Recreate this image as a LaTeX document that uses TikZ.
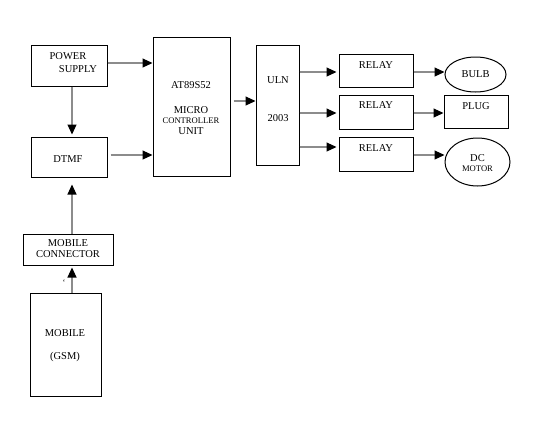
\documentclass[tikz,border=0pt]{standalone}
\usepackage{fontspec}
\setmainfont{Liberation Serif}
\usetikzlibrary{arrows.meta,shapes.geometric}
\tikzset{
  blk/.style={draw=black, line width=1pt, inner sep=0pt, rectangle},
  oval/.style={draw=black, line width=1pt, inner sep=0pt, ellipse},
  txt/.style={inner sep=0pt, font=\fontsize{10.5}{12}\selectfont},
  stxt/.style={inner sep=0pt, font=\fontsize{8.6}{10}\selectfont},
  conn/.style={draw=black!45, line width=1.1pt, -{Triangle[black, length=10pt, width=9pt]}}
}
\begin{document}
\begin{tikzpicture}[x=1pt, y=-1pt]
\useasboundingbox (0,0) rectangle (538,429);
% boxes
\node[blk, minimum width=76pt, minimum height=41pt] (ps) at (69,65.5) {};
\node[blk, minimum width=77pt, minimum height=139pt] (mcu) at (191.5,106.5) {};
\node[blk, minimum width=76pt, minimum height=40pt] (dtmf) at (69,157) {};
\node[blk, minimum width=90pt, minimum height=31pt] (mc) at (68,249.5) {};
\node[blk, minimum width=71pt, minimum height=103pt] (mob) at (65.5,344.5) {};
\node[blk, minimum width=43pt, minimum height=120pt] (uln) at (277.5,105) {};
\node[blk, minimum width=74pt, minimum height=33pt] (r1) at (376,70.5) {};
\node[blk, minimum width=74pt, minimum height=34pt] (r2) at (376,112) {};
\node[blk, minimum width=74pt, minimum height=34pt] (r3) at (376,154) {};
\node[oval, minimum width=61pt, minimum height=35pt] (bulb) at (475.5,74.5) {};
\node[blk, minimum width=64pt, minimum height=33pt] (plug) at (476,111.5) {};
\node[oval, minimum width=65pt, minimum height=48pt] (motor) at (477.5,162) {};
% texts
\node[txt] (t1) at (68,56) {POWER};
\node[txt] (t2) at (78,69) {SUPPLY};
\node[txt] (t3) at (191,85) {AT89S52};
\node[txt] (t4) at (191,110) {MICRO};
\node[stxt] (t5) at (191,121) {CONTROLLER};
\node[txt] (t6) at (191,131) {UNIT};
\node[txt] (t7) at (68,159) {DTMF};
\node[txt] (t8) at (278,80) {ULN};
\node[txt] (t9) at (278,118) {2003};
\node[txt] (t10) at (376,65) {RELAY};
\node[txt] (t11) at (376,105) {RELAY};
\node[txt] (t12) at (376,148) {RELAY};
\node[txt] (t13) at (475.5,74) {BULB};
\node[txt] (t14) at (476,106) {PLUG};
\node[txt] (t15) at (477.5,158) {DC};
\node[stxt] (t16) at (477.5,169) {MOTOR};
\node[txt] (t17) at (68,243) {MOBILE};
\node[txt] (t18) at (68,254) {CONNECTOR};
\node[txt] (t19) at (65,333) {MOBILE};
\node[txt] (t20) at (65,357) {(GSM)};
\node[stxt] (t21) at (64,283) {`};
% connectors
\draw[conn] (ps.east |- 0,63) -- (mcu.west |- 0,63);
\draw[conn, shorten >=2pt] (ps.south -| 72,0) -- (dtmf.north -| 72,0);
\draw[conn, shorten <=3pt] (dtmf.east |- 0,155) -- (mcu.west |- 0,155);
\draw[conn, shorten <=3pt] (mcu.east |- 0,101) -- (uln.west |- 0,101);
\draw[conn, shorten >=2pt] (uln.east |- 0,72) -- (r1.west |- 0,72);
\draw[conn, shorten >=2pt] (uln.east |- 0,113) -- (r2.west |- 0,113);
\draw[conn, shorten >=2pt] (uln.east |- 0,147) -- (r3.west |- 0,147);
\draw[conn] (r1.east |- 0,72) -- (bulb.west |- 0,72);
\draw[conn] (r2.east |- 0,113) -- (plug.west |- 0,113);
\draw[conn] (r3.east |- 0,155) -- (motor.west |- 0,155);
\draw[conn, shorten >=7pt] (mc.north -| 72,0) -- (dtmf.south -| 72,0);
\draw[conn, shorten >=2pt] (mob.north -| 72,0) -- (mc.south -| 72,0);
\end{tikzpicture}
\end{document}
